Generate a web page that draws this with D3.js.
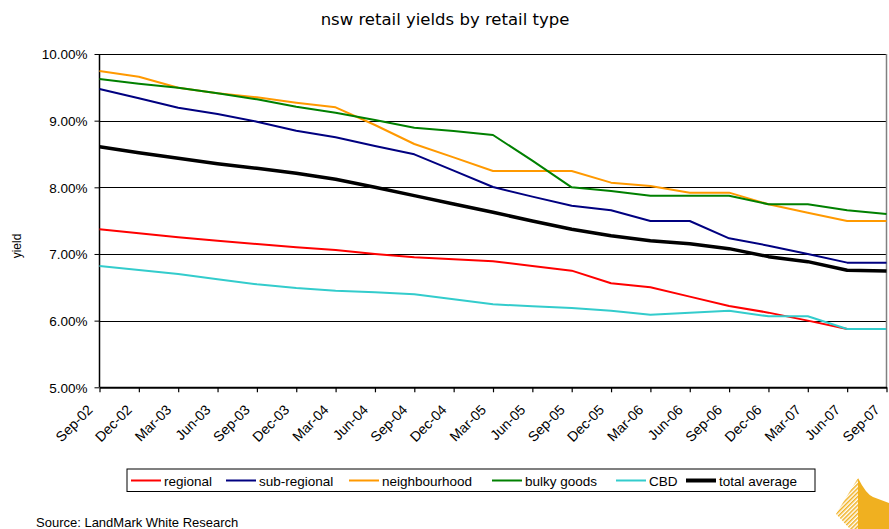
<!DOCTYPE html>
<html><head><meta charset="utf-8">
<script src="https://cdn.jsdelivr.net/npm/d3@7"></script>
<style>body{margin:0;background:#fff}svg{display:block}</style>
</head><body>
<svg id="c" width="889" height="529"></svg>
<script>
const categories = ["Sep-02","Dec-02","Mar-03","Jun-03","Sep-03","Dec-03","Mar-04","Jun-04","Sep-04","Dec-04","Mar-05","Jun-05","Sep-05","Dec-05","Mar-06","Jun-06","Sep-06","Dec-06","Mar-07","Jun-07","Sep-07"];
const regional     = [7.37,7.31,7.25,7.20,7.15,7.10,7.06,7.00,6.95,6.92,6.89,6.82,6.75,6.56,6.50,6.36,6.22,6.12,6.00,5.875,5.875];
const subRegional  = [9.475,9.335,9.195,9.10,8.985,8.85,8.75,8.62,8.495,8.25,8.005,7.86,7.725,7.655,7.495,7.495,7.235,7.125,7.00,6.87,6.87];
const neighbourhood= [9.745,9.66,9.495,9.41,9.35,9.27,9.20,8.935,8.65,8.45,8.245,8.245,8.245,8.07,8.02,7.92,7.92,7.745,7.62,7.495,7.495];
const bulkyGoods   = [9.625,9.555,9.495,9.41,9.32,9.21,9.12,9.01,8.895,8.845,8.785,8.40,8.00,7.945,7.875,7.875,7.875,7.745,7.745,7.655,7.60];
const cbd          = [6.82,6.76,6.70,6.62,6.545,6.49,6.45,6.425,6.395,6.32,6.245,6.215,6.19,6.15,6.09,6.12,6.15,6.065,6.065,5.875,5.875];
const totalAverage = [8.61,8.52,8.435,8.355,8.285,8.21,8.12,8.00,7.875,7.75,7.625,7.495,7.37,7.275,7.20,7.155,7.08,6.96,6.885,6.755,6.745];
const yTicks = [5,6,7,8,9,10];
const seriesNames = ["regional","sub-regional","neighbourhood","bulky goods","CBD","total average"];
const seriesValues = [regional, subRegional, neighbourhood, bulkyGoods, cbd, totalAverage];
const seriesColors = ["#FF0000","#000080","#FF9900","#008000","#33CCCC","#000000"];
const seriesWidths = [2,2,2,2,2,3.5];

const svg = d3.select("#c");
const L = 99.5, R = 886.5, T = 54, B = 387.3;
const x = d3.scalePoint().domain(categories).range([L, R]);
const y = d3.scaleLinear().domain([5,10]).range([B, T]);

// title
svg.append("text").attr("x", 445).attr("y", 25).attr("text-anchor","middle")
  .attr("font-family","DejaVu Sans, Verdana, sans-serif").attr("font-size",16.5).attr("fill","#000")
  .text("nsw retail yields by retail type");

// gridlines
svg.append("g").selectAll("line").data(yTicks.slice(1)).join("line")
  .attr("x1", L).attr("x2", R).attr("y1", d=>Math.round(y(d))+0.5).attr("y2", d=>Math.round(y(d))+0.5)
  .attr("stroke","#000").attr("stroke-width",1);
// right border
svg.append("line").attr("x1",R).attr("x2",R).attr("y1",T).attr("y2",B).attr("stroke","#808080").attr("stroke-width",1.5);

// y axis
const yAxis = svg.append("g").attr("transform",`translate(${L},0)`)
  .call(d3.axisLeft(y).tickValues(yTicks).tickSize(5).tickFormat(d=>d3.format(".2f")(d)+"%"));
yAxis.select(".domain").attr("stroke","#000").attr("stroke-width",1.5).attr("d",`M0,${T}V${B}`);
yAxis.selectAll(".tick line").attr("stroke","#000");
yAxis.selectAll("text").attr("font-family","Liberation Sans, Arial, sans-serif").attr("font-size",13.5).attr("fill","#000").attr("x",-12).attr("dy","0.35em");

// x axis
const xAxis = svg.append("g").attr("transform",`translate(0,${B})`)
  .call(d3.axisBottom(x).tickSize(5).tickSizeOuter(0));
xAxis.select(".domain").attr("stroke","#000").attr("stroke-width",2);
xAxis.selectAll(".tick line").attr("stroke","#000").attr("stroke-width",1.2);
xAxis.selectAll("text").attr("font-family","Liberation Sans, Arial, sans-serif").attr("font-size",14).attr("fill","#000")
  .attr("text-anchor","end").attr("transform","translate(-10,20) rotate(-45)").attr("y",0).attr("dy","0.35em").attr("x",0);

// y title
svg.append("text").attr("transform","translate(21,246) rotate(-90)").attr("text-anchor","middle")
  .attr("font-family","Liberation Sans, Arial, sans-serif").attr("font-size",12).text("yield");

// lines
const line = d3.line().x((d,i)=>x(categories[i])).y(d=>y(d));
seriesValues.forEach((vals,k)=>{
  svg.append("path").datum(vals).attr("d",line).attr("fill","none")
    .attr("stroke",seriesColors[k]).attr("stroke-width",seriesWidths[k]).attr("stroke-linejoin","round");
});

// legend
const lg = svg.append("g");
lg.append("rect").attr("x",127).attr("y",469).attr("width",688).attr("height",22.5).attr("fill","#fff").attr("stroke","#000").attr("stroke-width",1);
const lineStarts = [131,226,349,492,616,686];
seriesNames.forEach((n,k)=>{
  lg.append("line").attr("x1",lineStarts[k]).attr("x2",lineStarts[k]+30).attr("y1",480.5).attr("y2",480.5)
    .attr("stroke",seriesColors[k]).attr("stroke-width",k===5?4:2);
  lg.append("text").attr("x",lineStarts[k]+33).attr("y",485.5)
    .attr("font-family","Liberation Sans, Arial, sans-serif").attr("font-size",13.5).text(n);
});

// source
svg.append("text").attr("x",36).attr("y",527).attr("font-family","Liberation Sans, Arial, sans-serif").attr("font-size",13).text("Source: LandMark White Research");

// logo
const logo = svg.append("g");
const pat = svg.append("defs").append("pattern").attr("id","hatch").attr("width",3).attr("height",3)
  .attr("patternUnits","userSpaceOnUse").attr("patternTransform","rotate(45)");
pat.append("rect").attr("width",1.5).attr("height",3).attr("fill","#F0B020");
logo.append("path").attr("d","M858,478 L836,514 L850,529 L858,529 Z").attr("fill","url(#hatch)");
logo.append("path").attr("d","M858,478 Q866,494 873,497 L889,503 L889,529 L858,529 Z").attr("fill","#F0B020");
</script>
</body></html>
